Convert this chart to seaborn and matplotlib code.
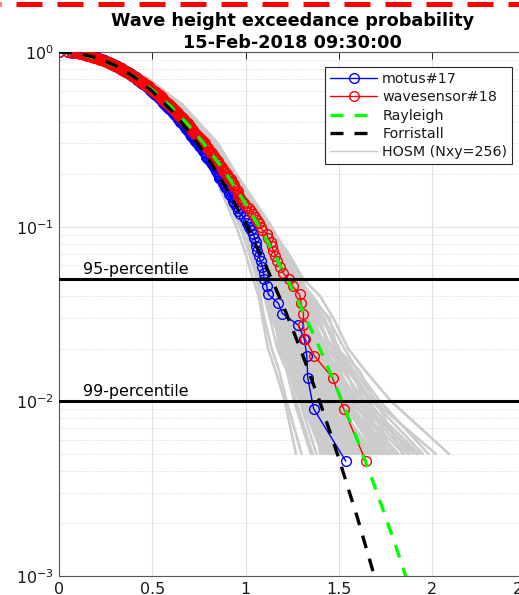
import numpy as np
import pandas as pd
import matplotlib
matplotlib.use("Agg")
import matplotlib.pyplot as plt
from matplotlib.lines import Line2D
from matplotlib.ticker import LogLocator, FixedLocator, FormatStrFormatter, NullFormatter
import seaborn as sns

# Sorted crest-to-trough wave heights (normalised by Hs), ascending
motus_heights = [
    0.00, 0.05, 0.07, 0.09, 0.10, 0.12, 0.13, 0.14, 0.14, 0.15,
    0.16, 0.17, 0.18, 0.18, 0.19, 0.20, 0.20, 0.21, 0.21, 0.22,
    0.23, 0.23, 0.24, 0.24, 0.25, 0.25, 0.26, 0.26, 0.27, 0.27,
    0.28, 0.28, 0.29, 0.29, 0.29, 0.30, 0.30, 0.31, 0.31, 0.32,
    0.32, 0.32, 0.33, 0.33, 0.34, 0.34, 0.34, 0.35, 0.35, 0.36,
    0.36, 0.36, 0.37, 0.37, 0.38, 0.38, 0.38, 0.39, 0.39, 0.39,
    0.40, 0.40, 0.41, 0.41, 0.41, 0.42, 0.42, 0.42, 0.43, 0.43,
    0.43, 0.44, 0.44, 0.44, 0.45, 0.45, 0.45, 0.46, 0.46, 0.47,
    0.47, 0.47, 0.48, 0.48, 0.48, 0.49, 0.49, 0.49, 0.50, 0.50,
    0.50, 0.51, 0.51, 0.51, 0.52, 0.52, 0.52, 0.53, 0.53, 0.54,
    0.54, 0.54, 0.55, 0.55, 0.55, 0.56, 0.56, 0.56, 0.57, 0.57,
    0.57, 0.58, 0.58, 0.58, 0.59, 0.59, 0.59, 0.60, 0.60, 0.61,
    0.61, 0.61, 0.62, 0.62, 0.62, 0.63, 0.63, 0.64, 0.64, 0.64,
    0.65, 0.65, 0.65, 0.66, 0.66, 0.67, 0.67, 0.67, 0.68, 0.68,
    0.68, 0.69, 0.69, 0.70, 0.70, 0.70, 0.71, 0.71, 0.72, 0.72,
    0.73, 0.73, 0.73, 0.74, 0.74, 0.75, 0.75, 0.76, 0.76, 0.77,
    0.77, 0.78, 0.78, 0.79, 0.79, 0.79, 0.80, 0.81, 0.81, 0.82,
    0.82, 0.83, 0.83, 0.84, 0.84, 0.85, 0.85, 0.86, 0.86, 0.87,
    0.88, 0.88, 0.89, 0.89, 0.90, 0.91, 0.91, 0.92, 0.93, 0.93,
    0.94, 0.95, 0.96, 0.96, 0.97, 0.99, 1.00, 1.01, 1.02, 1.03,
    1.042, 1.047, 1.055, 1.058, 1.062, 1.07, 1.08, 1.09, 1.096, 1.10,
    1.114, 1.122, 1.176, 1.197, 1.283, 1.315, 1.328, 1.333, 1.364, 1.537,
]

wavesensor_heights = [
    0.00, 0.05, 0.07, 0.08, 0.10, 0.11, 0.12, 0.13, 0.14, 0.15,
    0.15, 0.16, 0.17, 0.17, 0.18, 0.19, 0.19, 0.20, 0.21, 0.21,
    0.22, 0.22, 0.23, 0.23, 0.24, 0.25, 0.25, 0.26, 0.26, 0.27,
    0.27, 0.28, 0.28, 0.29, 0.29, 0.29, 0.30, 0.30, 0.31, 0.31,
    0.32, 0.32, 0.33, 0.33, 0.33, 0.34, 0.34, 0.35, 0.35, 0.35,
    0.36, 0.36, 0.37, 0.37, 0.37, 0.38, 0.38, 0.39, 0.39, 0.39,
    0.40, 0.40, 0.41, 0.41, 0.41, 0.42, 0.42, 0.43, 0.43, 0.43,
    0.44, 0.44, 0.45, 0.45, 0.45, 0.46, 0.46, 0.46, 0.47, 0.47,
    0.48, 0.48, 0.48, 0.49, 0.49, 0.49, 0.50, 0.50, 0.51, 0.51,
    0.51, 0.52, 0.52, 0.53, 0.53, 0.53, 0.54, 0.54, 0.54, 0.55,
    0.55, 0.55, 0.56, 0.56, 0.57, 0.57, 0.57, 0.58, 0.58, 0.59,
    0.59, 0.59, 0.60, 0.60, 0.60, 0.61, 0.61, 0.62, 0.62, 0.62,
    0.63, 0.63, 0.64, 0.64, 0.64, 0.65, 0.65, 0.66, 0.66, 0.67,
    0.67, 0.67, 0.68, 0.68, 0.69, 0.69, 0.69, 0.70, 0.70, 0.71,
    0.71, 0.72, 0.72, 0.72, 0.73, 0.73, 0.74, 0.74, 0.75, 0.75,
    0.76, 0.76, 0.77, 0.77, 0.78, 0.78, 0.79, 0.79, 0.80, 0.80,
    0.81, 0.81, 0.82, 0.82, 0.83, 0.83, 0.84, 0.84, 0.85, 0.85,
    0.86, 0.87, 0.87, 0.88, 0.88, 0.89, 0.90, 0.90, 0.91, 0.92,
    0.92, 0.93, 0.94, 0.94, 0.95, 0.96, 0.96, 0.96, 0.97, 0.98,
    0.99, 1.00, 1.02, 1.03, 1.04, 1.05, 1.06, 1.07, 1.08, 1.09,
    1.114, 1.12, 1.135, 1.14, 1.149, 1.16, 1.17, 1.185, 1.20, 1.23,
    1.253, 1.289, 1.298, 1.31, 1.31, 1.319, 1.369, 1.466, 1.525, 1.644,
]

# Theoretical exceedance curves
rayleigh_h = [0.0, 0.1, 0.2, 0.3, 0.4, 0.5, 0.6, 0.7, 0.8, 0.9, 1.0,
              1.1, 1.2, 1.3, 1.4, 1.5, 1.6, 1.7, 1.8, 1.9, 2.0]
rayleigh_p = [1.0, 0.9802, 0.9231, 0.8353, 0.7261, 0.6065, 0.4868, 0.3753,
              0.2780, 0.1979, 0.1353, 0.08892, 0.05613, 0.03405, 0.01984,
              0.01111, 0.005976, 0.003089, 0.001534, 0.000732, 0.000335]
forristall_h = [0.0, 0.1, 0.2, 0.3, 0.4, 0.5, 0.6, 0.7, 0.8, 0.9, 1.0,
                1.1, 1.2, 1.3, 1.4, 1.5, 1.6, 1.7, 1.8]
forristall_p = [1.0, 0.9832, 0.9287, 0.8395, 0.7242, 0.5954, 0.4658, 0.3464,
                0.2446, 0.1638, 0.1040, 0.06255, 0.03562, 0.01919, 0.009770,
                0.004705, 0.002140, 0.000918, 0.000372]

# HOSM ensemble: wave height reached at each exceedance level, one row per run
hosm_levels = [1.0, 0.9, 0.7, 0.5, 0.3, 0.2, 0.1, 0.07, 0.05, 0.04, 0.03,
               0.02, 0.015, 0.01, 0.005]
hosm_heights = [
    [0, .22, .41, .57, .74, .84, .97, 1.02, 1.06, 1.08, 1.10, 1.14, 1.18, 1.22, 1.30],
    [0, .23, .42, .59, .76, .86, 1.00, 1.05, 1.10, 1.12, 1.16, 1.20, 1.24, 1.30, 1.42],
    [0, .24, .44, .61, .78, .88, 1.04, 1.10, 1.15, 1.19, 1.24, 1.30, 1.37, 1.45, 1.62],
    [0, .25, .45, .62, .80, .89, 1.06, 1.12, 1.19, 1.25, 1.31, 1.38, 1.43, 1.55, 1.74],
    [0, .26, .47, .64, .83, .93, 1.10, 1.20, 1.28, 1.36, 1.44, 1.53, 1.60, 1.72, 1.98],
    [0, .22, .42, .58, .75, .85, .99, 1.03, 1.08, 1.11, 1.15, 1.19, 1.25, 1.33, 1.48],
    [0, .24, .43, .60, .77, .87, 1.02, 1.08, 1.12, 1.17, 1.21, 1.27, 1.33, 1.38, 1.52],
    [0, .23, .43, .61, .79, .89, 1.05, 1.11, 1.17, 1.22, 1.28, 1.34, 1.40, 1.48, 1.68],
    [0, .25, .46, .63, .81, .91, 1.08, 1.16, 1.24, 1.30, 1.38, 1.46, 1.55, 1.66, 1.88],
    [0, .27, .48, .66, .85, .94, 1.13, 1.23, 1.31, 1.40, 1.47, 1.55, 1.64, 1.78, 2.09],
    [0, .21, .40, .56, .73, .83, .95, 1.00, 1.04, 1.07, 1.09, 1.12, 1.16, 1.21, 1.27],
    [0, .22, .41, .58, .75, .85, 1.00, 1.04, 1.09, 1.14, 1.18, 1.22, 1.28, 1.36, 1.55],
    [0, .23, .43, .60, .78, .87, 1.03, 1.09, 1.13, 1.16, 1.20, 1.26, 1.31, 1.35, 1.40],
    [0, .24, .44, .61, .79, .88, 1.05, 1.13, 1.20, 1.23, 1.27, 1.32, 1.36, 1.43, 1.59],
    [0, .25, .45, .62, .80, .90, 1.07, 1.14, 1.21, 1.27, 1.34, 1.42, 1.50, 1.60, 1.80],
    [0, .26, .47, .65, .84, .94, 1.12, 1.19, 1.25, 1.29, 1.35, 1.44, 1.52, 1.64, 1.93],
    [0, .23, .42, .59, .77, .86, 1.01, 1.06, 1.11, 1.15, 1.20, 1.25, 1.29, 1.34, 1.46],
    [0, .24, .44, .61, .78, .88, 1.03, 1.09, 1.14, 1.18, 1.23, 1.29, 1.35, 1.41, 1.57],
    [0, .22, .41, .57, .74, .84, .98, 1.03, 1.07, 1.10, 1.13, 1.17, 1.22, 1.26, 1.35],
    [0, .25, .45, .63, .80, .90, 1.06, 1.13, 1.19, 1.25, 1.31, 1.37, 1.45, 1.52, 1.72],
    [0, .24, .43, .60, .77, .87, 1.02, 1.07, 1.12, 1.16, 1.22, 1.28, 1.32, 1.39, 1.50],
    [0, .23, .43, .60, .78, .88, 1.04, 1.10, 1.16, 1.21, 1.26, 1.33, 1.39, 1.46, 1.64],
    [0, .26, .47, .65, .84, .93, 1.11, 1.18, 1.26, 1.33, 1.41, 1.49, 1.58, 1.70, 1.84],
    [0, .22, .42, .58, .76, .86, 1.01, 1.06, 1.10, 1.13, 1.17, 1.23, 1.27, 1.31, 1.44],
    [0, .25, .45, .62, .79, .89, 1.05, 1.12, 1.18, 1.24, 1.30, 1.36, 1.41, 1.50, 1.66],
    [0, .24, .44, .62, .79, .89, 1.07, 1.15, 1.22, 1.28, 1.36, 1.43, 1.48, 1.58, 1.76],
    [0, .23, .42, .59, .76, .86, 1.00, 1.05, 1.09, 1.13, 1.18, 1.24, 1.30, 1.37, 1.53],
    [0, .24, .44, .61, .78, .88, 1.04, 1.11, 1.16, 1.20, 1.25, 1.31, 1.38, 1.44, 1.61],
    [0, .25, .46, .63, .81, .90, 1.08, 1.15, 1.22, 1.29, 1.37, 1.47, 1.56, 1.68, 1.95],
    [0, .26, .47, .65, .83, .92, 1.11, 1.19, 1.27, 1.34, 1.42, 1.50, 1.57, 1.66, 1.79],
    [0, .23, .43, .60, .77, .87, 1.02, 1.08, 1.13, 1.18, 1.24, 1.29, 1.34, 1.42, 1.58],
    [0, .22, .41, .58, .75, .85, .99, 1.04, 1.08, 1.12, 1.16, 1.21, 1.26, 1.32, 1.47],
    [0, .24, .44, .61, .78, .88, 1.05, 1.12, 1.18, 1.23, 1.29, 1.35, 1.42, 1.52, 1.70],
    [0, .25, .45, .63, .80, .89, 1.06, 1.14, 1.20, 1.26, 1.33, 1.40, 1.47, 1.57, 1.85],
    [0, .23, .42, .59, .76, .86, 1.01, 1.07, 1.13, 1.17, 1.22, 1.27, 1.32, 1.40, 1.55],
    [0, .24, .43, .60, .77, .87, 1.03, 1.09, 1.15, 1.20, 1.25, 1.30, 1.36, 1.47, 1.65],
    [0, .26, .46, .63, .81, .91, 1.08, 1.16, 1.25, 1.32, 1.39, 1.46, 1.53, 1.62, 1.90],
    [0, .22, .42, .58, .75, .85, 1.00, 1.05, 1.10, 1.14, 1.19, 1.24, 1.29, 1.35, 1.51],
    [0, .25, .45, .62, .79, .89, 1.06, 1.13, 1.19, 1.24, 1.30, 1.39, 1.46, 1.54, 1.78],
    [0, .24, .44, .61, .79, .89, 1.04, 1.10, 1.16, 1.22, 1.28, 1.34, 1.40, 1.49, 1.63],
    [0, .22, .42, .58, .75, .85, .99, 1.04, 1.07, 1.12, 1.14, 1.21, 1.23, 1.29, 1.38],
    [0, .23, .43, .60, .78, .88, 1.03, 1.07, 1.14, 1.15, 1.23, 1.25, 1.34, 1.36, 1.49],
    [0, .25, .45, .63, .81, .91, 1.08, 1.13, 1.21, 1.23, 1.33, 1.35, 1.45, 1.48, 1.69],
    [0, .24, .44, .62, .80, .90, 1.07, 1.14, 1.19, 1.26, 1.29, 1.40, 1.42, 1.56, 1.82],
    [0, .26, .47, .66, .85, .95, 1.13, 1.21, 1.30, 1.34, 1.45, 1.49, 1.61, 1.69, 2.02],
    [0, .23, .42, .59, .77, .87, 1.01, 1.05, 1.11, 1.13, 1.19, 1.21, 1.28, 1.31, 1.43],
    [0, .24, .45, .62, .80, .90, 1.06, 1.10, 1.18, 1.20, 1.28, 1.30, 1.39, 1.42, 1.60],
    [0, .25, .46, .64, .82, .92, 1.10, 1.17, 1.25, 1.28, 1.37, 1.40, 1.51, 1.55, 1.75],
    [0, .22, .41, .58, .76, .86, 1.00, 1.04, 1.09, 1.11, 1.16, 1.18, 1.24, 1.27, 1.36],
    [0, .24, .44, .61, .79, .89, 1.04, 1.09, 1.15, 1.17, 1.24, 1.27, 1.35, 1.37, 1.54],
    [0, .25, .46, .64, .83, .93, 1.11, 1.18, 1.27, 1.31, 1.40, 1.44, 1.54, 1.60, 1.87],
    [0, .23, .43, .60, .78, .88, 1.03, 1.08, 1.13, 1.16, 1.21, 1.24, 1.31, 1.35, 1.45],
    [0, .26, .46, .63, .81, .91, 1.09, 1.16, 1.23, 1.27, 1.35, 1.39, 1.49, 1.54, 1.71],
    [0, .24, .43, .60, .77, .87, 1.02, 1.06, 1.12, 1.14, 1.20, 1.23, 1.30, 1.33, 1.44],
    [0, .25, .45, .63, .81, .91, 1.09, 1.15, 1.22, 1.25, 1.32, 1.36, 1.45, 1.49, 1.63],
    [0, .22, .42, .59, .76, .86, 1.01, 1.05, 1.10, 1.13, 1.18, 1.22, 1.29, 1.33, 1.50],
    [0, .27, .48, .66, .85, .95, 1.14, 1.22, 1.29, 1.33, 1.42, 1.48, 1.58, 1.63, 1.77],
    [0, .23, .43, .61, .79, .89, 1.05, 1.11, 1.17, 1.19, 1.26, 1.30, 1.36, 1.39, 1.56],
    [0, .24, .44, .62, .80, .90, 1.06, 1.12, 1.18, 1.22, 1.27, 1.33, 1.37, 1.46, 1.67],
    [0, .25, .46, .64, .82, .92, 1.10, 1.16, 1.24, 1.28, 1.36, 1.41, 1.49, 1.59, 1.92],
    [0, .23, .43, .60, .77, .87, 1.02, 1.09, 1.14, 1.19, 1.22, 1.28, 1.31, 1.40, 1.53],
    [0, .24, .44, .62, .80, .90, 1.06, 1.11, 1.20, 1.22, 1.30, 1.32, 1.41, 1.45, 1.58],
    [0, .22, .42, .59, .76, .86, 1.01, 1.06, 1.12, 1.15, 1.19, 1.26, 1.27, 1.37, 1.47],
    [0, .25, .45, .63, .81, .91, 1.08, 1.14, 1.23, 1.26, 1.34, 1.38, 1.47, 1.51, 1.72],
    [0, .24, .44, .61, .79, .89, 1.05, 1.12, 1.16, 1.21, 1.27, 1.31, 1.38, 1.47, 1.60],
    [0, .23, .43, .60, .78, .88, 1.03, 1.08, 1.14, 1.18, 1.23, 1.28, 1.33, 1.38, 1.50],
    [0, .25, .46, .64, .82, .92, 1.09, 1.17, 1.24, 1.29, 1.33, 1.42, 1.46, 1.56, 1.70],
    [0, .24, .43, .61, .78, .88, 1.04, 1.09, 1.15, 1.17, 1.25, 1.26, 1.34, 1.41, 1.52],
    [0, .22, .42, .59, .77, .87, 1.02, 1.07, 1.11, 1.16, 1.18, 1.25, 1.28, 1.34, 1.45],
    [0, .26, .46, .64, .83, .93, 1.10, 1.16, 1.22, 1.27, 1.31, 1.37, 1.43, 1.53, 1.73],
    [0, .23, .43, .61, .79, .89, 1.05, 1.10, 1.17, 1.20, 1.26, 1.29, 1.39, 1.43, 1.57],
    [0, .24, .44, .62, .80, .90, 1.06, 1.13, 1.17, 1.23, 1.28, 1.34, 1.39, 1.50, 1.62],
    [0, .25, .45, .62, .80, .90, 1.07, 1.12, 1.19, 1.22, 1.29, 1.32, 1.40, 1.44, 1.68],
    [0, .23, .42, .59, .77, .87, 1.02, 1.07, 1.12, 1.14, 1.21, 1.23, 1.32, 1.36, 1.48],
    [0, .24, .44, .61, .79, .89, 1.05, 1.11, 1.17, 1.21, 1.26, 1.33, 1.38, 1.45, 1.59],
    [0, .25, .46, .63, .81, .91, 1.09, 1.15, 1.21, 1.26, 1.32, 1.38, 1.44, 1.52, 1.81],
    [0, .22, .41, .58, .76, .86, 1.00, 1.05, 1.10, 1.13, 1.17, 1.22, 1.26, 1.30, 1.41],
    [0, .24, .44, .62, .80, .90, 1.06, 1.14, 1.19, 1.24, 1.27, 1.36, 1.40, 1.51, 1.64],
    [0, .23, .43, .60, .78, .88, 1.03, 1.10, 1.13, 1.18, 1.24, 1.27, 1.35, 1.39, 1.54],
    [0, .25, .45, .63, .81, .91, 1.08, 1.15, 1.20, 1.27, 1.31, 1.39, 1.42, 1.53, 1.76],
]

percentile_levels = [0.05, 0.01]
percentile_labels = ["95-percentile", "99-percentile"]
x_ticks = [0, 0.5, 1, 1.5, 2, 2.5]


def exceedance(heights):
    """Empirical exceedance probability of each sorted height."""
    n = len(heights)
    return (n - np.arange(n)) / n


sns.set_style("white")
plt.rcParams["font.family"] = ["DejaVu Sans"]
plt.rcParams["mathtext.default"] = "regular"

fig = plt.figure(figsize=(5.19, 5.95), dpi=100)
ax = fig.add_axes([59 / 519, 19 / 595, 466.5 / 519, 524 / 595])
ax.set_yscale("log")

# HOSM ensemble in light grey, underneath everything
hosm_df = pd.DataFrame(
    [(i, h, p) for i, row in enumerate(hosm_heights) for h, p in zip(row, hosm_levels)],
    columns=["run", "height", "prob"],
)
sns.lineplot(data=hosm_df, x="height", y="prob", units="run", estimator=None,
             sort=False, color=(0.8, 0.8, 0.8), lw=1.9, legend=False, ax=ax, zorder=1)

gauges = [("motus#17", motus_heights, (0, 0, 1)),
          ("wavesensor#18", wavesensor_heights, (1, 0, 0))]
for name, heights, col in gauges:
    sns.lineplot(x=heights, y=exceedance(heights), estimator=None, sort=False,
                 color=col, lw=1.0, marker="o", markersize=7,
                 markerfacecolor="none", markeredgecolor=col,
                 markeredgewidth=1.0, ax=ax, zorder=3)

dash = (0, (3.9, 3.3))
sns.lineplot(x=rayleigh_h, y=rayleigh_p, estimator=None, sort=False,
             color=(0, 1, 0), lw=2.4, linestyle=dash, ax=ax, zorder=4)
sns.lineplot(x=forristall_h, y=forristall_p, estimator=None, sort=False,
             color="black", lw=2.4, linestyle=dash, ax=ax, zorder=5)

for lev, lab in zip(percentile_levels, percentile_labels):
    ax.axhline(lev, color="black", lw=2.2, zorder=6)
    ax.annotate(lab, xy=(0.129, lev), xytext=(0, 1.5), textcoords="offset points",
                va="bottom", ha="left", fontsize=11.4, color="black", zorder=6)

ax.set_xlim(0, 2.5)
ax.set_ylim(1e-3, 1)
ax.xaxis.set_major_locator(FixedLocator(x_ticks))
ax.xaxis.set_major_formatter(FormatStrFormatter("%g"))
ax.yaxis.set_major_locator(LogLocator(base=10, numticks=10))
ax.yaxis.set_minor_locator(LogLocator(base=10, subs=np.arange(2, 10), numticks=20))
ax.yaxis.set_minor_formatter(NullFormatter())
ax.set_xlabel("")
ax.set_ylabel("")

ax.grid(True, which="major", color="#e0e0e0", lw=0.8, ls="-", zorder=0)
ax.grid(True, which="minor", axis="y", color="#dadada", lw=0.6, ls=(0, (2, 2)), zorder=0)
ax.set_axisbelow(True)

ax.tick_params(which="both", direction="in", top=True, right=True,
               color="#262626", labelcolor="#1a1a1a", labelsize=11.4, width=0.7)
ax.tick_params(which="major", length=5, pad=4)
ax.tick_params(which="minor", length=3)
for sp in ax.spines.values():
    sp.set_color("#555555")
    sp.set_linewidth(0.8)

ax.set_title("Wave height exceedance probability\n15-Feb-2018 09:30:00",
             fontsize=12.7, fontweight="bold", color="black", pad=3, linespacing=1.25)

handles = [
    Line2D([], [], color="blue", lw=1.0, marker="o", markersize=7,
           markerfacecolor="none", markeredgecolor="blue"),
    Line2D([], [], color="red", lw=1.0, marker="o", markersize=7,
           markerfacecolor="none", markeredgecolor="red"),
    Line2D([], [], color=(0, 1, 0), lw=2.4, linestyle=dash),
    Line2D([], [], color="black", lw=2.4, linestyle=dash),
    Line2D([], [], color=(0.8, 0.8, 0.8), lw=1.0),
]
labels = ["motus#17", "wavesensor#18", "Rayleigh", "Forristall", "HOSM (Nxy=256)"]
leg = ax.legend(handles, labels, loc="upper left", bbox_to_anchor=(0.570, 0.971),
                frameon=True, fancybox=False, framealpha=1, edgecolor="#262626",
                fontsize=10.3, handlelength=3.3, handletextpad=0.35,
                labelspacing=0.3, borderpad=0.35, borderaxespad=0, numpoints=1)
leg.get_frame().set_linewidth(0.8)
for t in leg.get_texts():
    t.set_color("#1a1a1a")
leg.set_zorder(10)

# dashed red rule along the top edge of the figure
fig.add_artist(Line2D([0, 1], [1 - 3.5 / 595, 1 - 3.5 / 595], transform=fig.transFigure,
                      color="red", lw=3.6, linestyle=(5, (5.2, 3.0)),
                      solid_capstyle="butt", dash_capstyle="butt"))

fig.savefig("out.png", dpi=100)
